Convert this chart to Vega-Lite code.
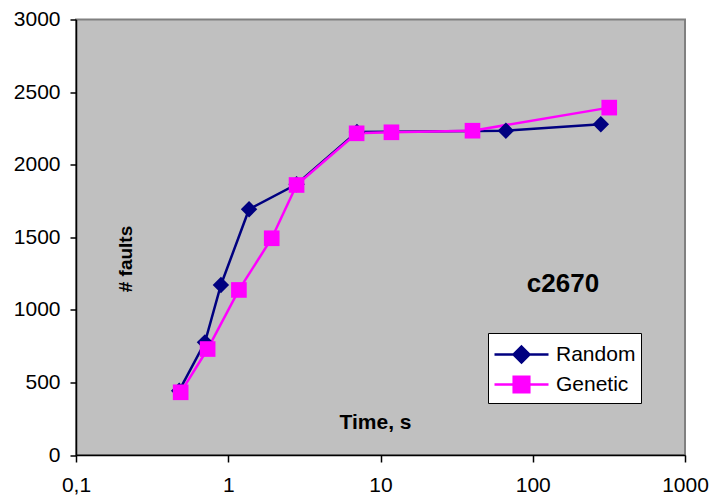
{
  "$schema": "https://vega.github.io/schema/vega-lite/v6.json",
  "autosize": "none",
  "width": 609,
  "height": 435.5,
  "padding": {"left": 76, "top": 19.5, "right": 24, "bottom": 44},
  "background": "white",
  "config": {
    "font": "Liberation Sans",
    "view": {"fill": "#C0C0C0", "stroke": "#808080", "strokeWidth": 2},
    "axis": {"grid": false, "domainColor": "black", "domainWidth": 1.5, "tickColor": "black", "tickWidth": 1.5, "labelFont": "Liberation Sans", "labelFontSize": 21, "labelColor": "black", "titleFont": "Liberation Sans", "titleFontSize": 20, "titleFontWeight": "bold", "titleColor": "black"}
  },
  "data": {
    "values": [
      {"series": "Random", "time": 0.476, "faults": 443},
      {"series": "Random", "time": 0.703, "faults": 776},
      {"series": "Random", "time": 0.895, "faults": 1171},
      {"series": "Random", "time": 1.37, "faults": 1693},
      {"series": "Random", "time": 2.81, "faults": 1865},
      {"series": "Random", "time": 7.0, "faults": 2225},
      {"series": "Random", "time": 66.6, "faults": 2234},
      {"series": "Random", "time": 280, "faults": 2278},
      {"series": "Genetic", "time": 0.487, "faults": 432},
      {"series": "Genetic", "time": 0.732, "faults": 730},
      {"series": "Genetic", "time": 1.175, "faults": 1137},
      {"series": "Genetic", "time": 1.93, "faults": 1493},
      {"series": "Genetic", "time": 2.81, "faults": 1860},
      {"series": "Genetic", "time": 6.97, "faults": 2216},
      {"series": "Genetic", "time": 11.8, "faults": 2223},
      {"series": "Genetic", "time": 40.2, "faults": 2234},
      {"series": "Genetic", "time": 318, "faults": 2393}
    ]
  },
  "encoding": {
    "x": {
      "field": "time", "type": "quantitative",
      "scale": {"type": "log", "domain": [0.1, 1000], "nice": false},
      "axis": {"values": [0.1, 1, 10, 100, 1000], "labelExpr": "datum.value == 0.1 ? '0,1' : format(datum.value, 'd')", "tickSize": 7, "labelPadding": 12, "labelFlush": false, "title": "Time, s", "titleFontSize": 21, "titleX": 299, "titleY": -33, "titleBaseline": "middle", "titleAlign": "center"}
    },
    "y": {
      "field": "faults", "type": "quantitative",
      "scale": {"domain": [0, 3000], "nice": false},
      "axis": {"values": [0, 500, 1000, 1500, 2000, 2500, 3000], "format": "d", "tickSize": 6, "labelPadding": 10, "title": "# faults", "titleFontSize": 19, "titleX": 49, "titleY": 239, "titleAngle": -90, "titleAlign": "center", "titleBaseline": "middle"}
    }
  },
  "layer": [
    {"mark": {"type": "line", "strokeWidth": 2.5}, "encoding": {
      "order": {"field": "time", "type": "quantitative"},
      "color": {
        "field": "series", "type": "nominal",
        "scale": {"domain": ["Random", "Genetic"], "range": ["#000080", "#FF00FF"]},
        "legend": {
          "title": null, "orient": "none", "legendX": 412, "legendY": 313.5,
          "fillColor": "white", "strokeColor": "black", "cornerRadius": 0, "padding": 5,
          "labelFont": "Liberation Sans", "labelFontSize": 21, "labelColor": "black",
          "symbolSize": 900, "symbolOffset": 12, "labelOffset": 18, "symbolStrokeWidth": 2.5, "rowPadding": 0,
          "encode": {"symbols": {"update": {
            "shape": {"signal": "datum.value == 'Random' ? 'M-1.8,0H1.8M0,-0.53L0.53,0L0,0.53L-0.53,0Z' : 'M-1.8,0H1.8M-0.52,-0.52H0.52V0.52H-0.52Z'"},
            "fill": {"signal": "datum.value == 'Random' ? '#000080' : '#FF00FF'"},
            "stroke": {"signal": "datum.value == 'Random' ? '#000080' : '#FF00FF'"},
            "fillOpacity": {"value": 1},
            "strokeWidth": {"value": 2.5}
          }}}
        }
      }
    }},
    {"transform": [{"filter": "datum.series == 'Random'"}],
     "mark": {"type": "point", "filled": true, "opacity": 1, "shape": "diamond", "size": 270, "color": "#000080"}},
    {"transform": [{"filter": "datum.series == 'Genetic'"}],
     "mark": {"type": "point", "filled": true, "opacity": 1, "shape": "square", "size": 245, "color": "#FF00FF"}},
    {"data": {"values": [{"label": "c2670", "t": 158, "f": 1178}]},
     "mark": {"type": "text", "fontSize": 26, "fontWeight": "bold", "fill": "black", "font": "Liberation Sans", "baseline": "middle", "align": "center"},
     "encoding": {"x": {"field": "t", "type": "quantitative"}, "y": {"field": "f", "type": "quantitative"}, "text": {"field": "label"}}}
  ]
}
